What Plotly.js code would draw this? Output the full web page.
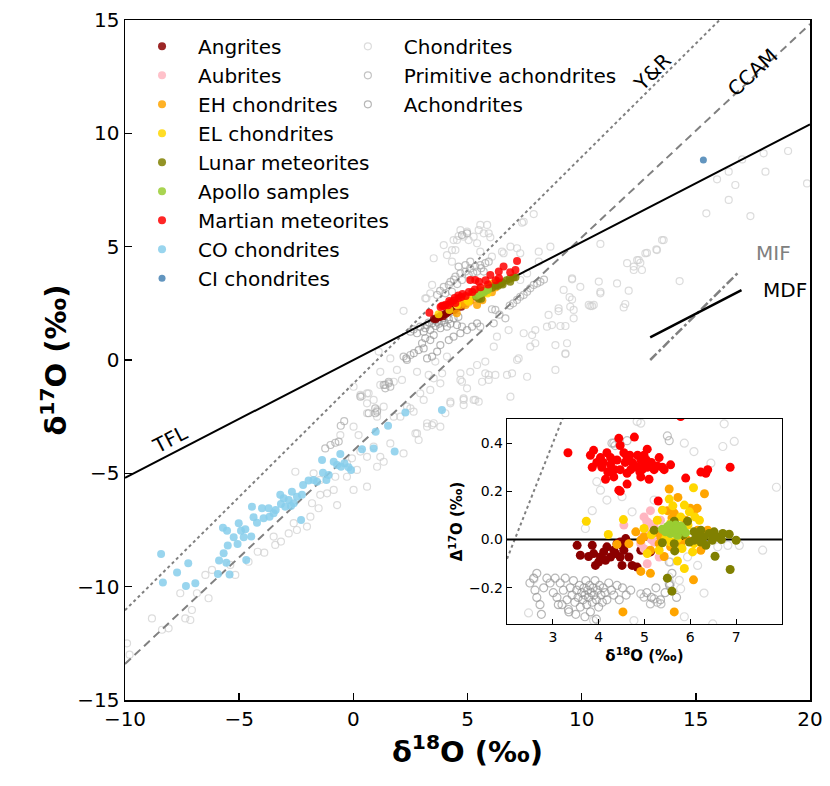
<!DOCTYPE html>
<html><head><meta charset="utf-8">
<script src="https://cdn.plot.ly/plotly-3.0.1.min.js"></script>
<style>html,body{margin:0;padding:0;background:#fff;}#chart{width:830px;height:786px;}</style>
</head><body><div id="chart"></div>
<script>
// ---------- DATA (main panel: [δ18O, δ17O]) ----------
const angritesMain = [[3.53,1.82],[3.60,1.80],[3.78,1.90],[3.86,1.99],[3.93,1.93],[4.04,2.03],[4.18,2.14],[4.33,2.21],[4.47,2.25],[4.55,2.33],[4.73,2.35],[4.92,2.52],[5.13,2.62],[3.70,1.88],[4.10,2.08],[4.40,2.20],[4.62,2.36]];
const aubritesMain = [[5.13,2.79],[4.99,2.68],[5.10,2.72],[5.21,2.76],[5.28,2.78],[4.92,2.54],[5.06,2.53],[5.32,2.70],[4.55,2.43],[5.35,2.86]];
const ehMain = [[5.54,3.09],[6.31,3.47],[6.08,3.28],[5.50,2.98],[4.81,2.53],[4.66,2.40],[5.13,2.63],[5.57,2.87],[6.23,3.20],[6.38,3.36],[4.53,2.06],[5.65,2.64],[4.92,2.43],[6.07,2.99],[5.79,2.99],[5.42,2.43]];
const elMain = [[3.73,2.02],[4.21,2.21],[4.54,2.44],[5.54,3.05],[6.07,3.38],[5.87,3.19],[5.28,2.83],[5.72,2.97],[5.82,2.99],[5.87,2.93],[4.99,2.64],[5.06,2.57],[6.10,3.26],[5.46,2.84]];
const lunarMain = [[5.39,2.79],[5.65,3.02],[5.94,3.17],[6.08,3.19],[6.23,3.28],[6.41,3.36],[6.52,3.42],[6.71,3.52],[6.85,3.58],[7.00,3.64],[6.48,3.37],[6.34,3.28],[6.87,3.45],[5.50,2.70],[5.60,2.70],[6.54,3.33],[7.10,3.65]];
const apolloMain = [[5.39,2.84],[5.50,2.91],[5.61,2.97],[5.68,3.01],[5.76,3.04],[5.83,3.08],[5.57,2.93],[5.72,2.99],[5.90,3.10]];
const martianMain = [[3.33,2.09],[3.82,2.34],[3.89,2.39],[3.96,2.38],[4.04,2.44],[4.15,2.41],[4.26,2.53],[4.40,2.62],[4.44,2.73],[4.47,2.52],[4.62,2.74],[4.73,2.78],[4.78,2.91],[4.92,2.82],[5.06,3.00],[5.21,3.00],[5.32,3.11],[5.57,3.21],[5.90,3.33],[6.23,3.52],[6.38,3.61],[6.87,3.87],[5.79,3.52],[5.50,3.45],[6.00,3.75],[6.37,3.90],[6.58,4.12],[7.10,3.97],[7.17,4.37],[5.12,3.53],[5.34,3.53],[4.20,2.60],[4.60,2.85]];
const coMain = [[-8.42,-8.56],[-8.34,-9.82],[-7.72,-9.38],[-7.33,-9.97],[-7.23,-8.97],[-6.92,-9.85],[-5.93,-9.44],[-5.88,-8.85],[-5.68,-8.53],[-5.56,-8.94],[-5.50,-8.18],[-5.42,-9.46],[-5.71,-7.40],[-5.53,-7.53],[-5.24,-7.82],[-5.07,-8.12],[-5.02,-7.20],[-4.92,-7.53],[-4.80,-7.82],[-4.69,-8.82],[-4.73,-7.47],[-4.47,-7.79],[-4.44,-6.47],[-4.37,-6.94],[-4.22,-7.18],[-4.00,-6.54],[-3.93,-6.98],[-3.71,-6.54],[-3.67,-6.91],[-3.49,-6.76],[-3.40,-6.62],[-3.20,-5.95],[-3.17,-6.35],[-3.05,-6.10],[-2.98,-6.47],[-2.83,-6.18],[-2.69,-5.81],[-2.73,-6.44],[-2.61,-6.32],[-2.47,-6.03],[-2.25,-5.95],[-2.29,-7.06],[-2.20,-5.51],[-1.96,-5.32],[-1.74,-5.29],[-1.59,-5.37],[-1.37,-4.41],[-1.33,-4.97],[-1.18,-5.29],[-1.08,-5.07],[-0.86,-4.49],[-0.71,-4.63],[-0.57,-4.15],[-0.54,-4.71],[-0.39,-4.56],[-0.21,-4.73],[-0.10,-4.85],[0.38,-3.94],[0.89,-3.90],[0.98,-3.16],[1.52,-2.90],[1.81,-4.04],[2.28,-2.32],[3.88,-2.21]];
const ciMain = [[15.33,8.82]];
const chondritesMain = [[-9.91,-12.5],[-9.8,-13.0],[-8.82,-11.4],[-8.38,-11.9],[-8.09,-11.84],[-7.58,-10.29],[-7.36,-11.4],[-7.14,-11.47],[-7.07,-11.03],[-6.85,-10.29],[-6.34,-10.51],[-6.48,-9.48],[-6.19,-9.26],[-5.39,-9.04],[-5.17,-9.48],[-4.59,-8.9],[-4.19,-8.46],[-3.9,-8.5],[-3.42,-8.16],[-3.17,-8.01],[-3.49,-7.79],[-2.83,-7.65],[-2.61,-7.2],[-2.47,-7.5],[-2.03,-7.35],[-1.88,-6.91],[-1.81,-6.32],[-1.52,-6.54],[-1.45,-5.95],[-1.15,-5.88],[-0.86,-5.73],[-0.71,-6.4],[-2.54,-4.93],[-1.74,-5.0],[-1.45,-5.29],[-0.79,-5.15],[-0.28,-5.15],[-0.28,-4.56],[-0.06,-4.34],[0.16,-4.85],[0.6,-5.59],[0.01,-5.73],[0.31,-4.04],[0.6,-4.27],[0.89,-3.82],[1.04,-4.71],[1.18,-4.27],[1.33,-4.49],[1.62,-3.68],[2.2,-4.12],[2.72,-3.24],[2.86,-3.53],[3.23,-2.94],[3.52,-2.79],[3.81,-2.94],[4.03,-2.35],[4.25,-1.84],[3.37,-1.32],[3.81,-1.03],[2.64,-2.28],[2.35,-2.06],[1.77,-2.5],[1.04,-2.5],[0.6,-2.35],[0.6,-1.91],[0.89,-1.76],[0.31,-1.54],[0.01,-1.18],[0.6,-1.47],[1.18,-1.1],[1.77,-0.96],[2.93,-1.47],
[1.11,0.37],[1.62,0.07],[1.18,-0.52],[0.38,-1.59],[0.67,-1.47],[1.91,-0.44],[2.13,-0.88],[2.79,-0.52],[3.59,-0.07],[4.1,0.15],[4.69,-0.59],[5.12,-0.52],[4.69,-0.88],[5.42,-0.22],[5.78,-0.07],[5.93,-0.88],[6.22,-0.66],[4.83,-1.69],[5.27,-1.76],[4.83,-1.99],[3.23,-2.79],[3.45,-2.87],[2.79,-3.24],[2.06,-2.5],[0.01,-2.94],[0.23,-3.31],[-0.57,-3.31],[1.04,-2.21],[1.33,-2.06],[2.5,-2.13],
[7.9,6.44],[7.39,6.06],[8.63,5.0],[10.82,5.12],[10.75,3.46],[10.82,2.94],[9.94,3.23],[9.58,3.56],[9.58,2.67],[9.21,3.09],[9.47,2.77],[8.99,2.28],[8.99,2.16],[8.55,1.99],[8.48,1.47],[8.7,1.54],[9.07,1.5],[9.29,1.5],[9.65,1.84],[10.38,2.38],[10.53,2.43],[12.06,3.06],[11.84,2.32],[11.91,2.47],[11.99,4.27],[12.28,3.97],[12.64,3.97],[12.43,4.41],[12.57,4.29],[12.86,4.73],[13.3,4.85],[13.59,5.29],[7.97,1.32],[7.83,1.1],[7.97,0.74],[7.75,0.59],[6.8,1.32],[6.29,1.03],[6.15,0.59],[7.17,0.0],[7.24,0.07],[6.95,-0.59],[6.73,-0.66],[7.61,-0.74],[8.85,-0.44],[9.29,0.26],[8.85,0.66],[7.46,1.18],[5.78,-0.59],[5.93,-0.66],[5.64,-0.96],[4.76,-0.96],[4.98,-1.25],[5.34,-1.76],[5.49,-1.84],[4.25,-1.91],[6.88,-1.62],[4.83,-1.76],[3.08,-1.76],[3.52,-0.81],[3.89,-0.59],[3.3,-0.66],
[5.86,5.96],[5.56,5.96],[5.93,5.59],[6.0,5.41],[4.69,5.73],[4.61,5.47],[4.39,5.29],[3.96,5.07],[4.1,4.63],[4.32,4.85],[3.52,4.49],[3.45,3.31],[3.2,2.72],[7.17,4.93],[7.31,4.71],[8.12,4.78],[8.12,4.34],[6.88,5.0],[6.51,4.78],[7.31,3.53],[7.61,3.82],[5.71,5.59],[5.42,5.15],[4.83,5.44],[4.54,5.29],[4.47,4.85],[4.32,4.34],[4.98,5.66],[5.05,5.29],[5.27,5.44],[5.49,5.73],[7.46,6.1],[6.58,4.71],[6.07,4.56],[3.37,2.94],[5.56,4.78],[2.2,2.17],[3.15,2.72],
[19.04,9.22],[19.87,7.79],[17.97,9.12],[18.05,8.31],[17.03,8.85],[16.44,8.31],[15.93,7.97],[16.73,7.72],[16.44,7.06],[15.46,6.47],[17.39,6.35],[13.52,5.29],[13.27,4.88],[12.79,4.71],[12.5,4.41],[12.28,4.12],[14.29,3.48],[10.82,3.01],[10.46,2.38],[10.31,2.43],[9.65,2.21],[9.36,0.74],[9.29,0.29],[9.58,3.6],[11.55,3.38],[9.5,2.35]];
const primitiveMain = [[4.25,3.45],[4.47,3.68],[4.69,3.82],[4.91,3.9],[5.12,4.04],[5.34,4.12],[5.56,4.19],[5.78,4.27],[5.93,4.34],[3.96,3.23],[4.76,3.53],[5.05,3.75],[5.42,3.9],[4.61,4.12],[4.91,4.19],[5.12,4.34],[4.98,5.59],[4.76,5.51],[5.71,3.9],[4.18,3.31],[4.32,3.01],[3.67,2.87],[4.03,2.94],[3.8,3.05],[4.55,3.35],[5.25,3.85],[5.6,4.05],[4.4,3.55],
[7.75,3.16],[7.9,3.31],[8.05,3.38],[7.61,3.01],[7.46,2.87],[7.31,2.79],[8.19,3.45],[7.17,2.65],[6.22,2.21],[6.15,1.62],[6.66,1.84],[7.0,2.5],[6.85,2.4],[8.35,3.55],[6.4,2.0],[6.07,2.24],[5.56,1.47],[4.76,1.47],
[1.33,-1.1],[1.55,-0.96],[1.62,-1.18],[1.4,-1.25],[0.67,-2.35],[0.96,-2.13],[0.31,-1.62],[-0.4,-2.7],[-0.55,-2.9],[2.2,0.15],[2.35,0.0],[2.5,0.22],[-1.23,-3.9],[-1.0,-3.75],[-0.79,-3.65],[-0.64,-3.6],[0.96,-2.35],[1.04,-2.28],[1.4,-1.1],[1.55,-1.03]];
const achondritesMain = [[2.64,1.35],[2.93,1.47],[3.23,1.54],[3.45,1.62],[3.67,1.69],[3.88,1.73],[4.18,1.8],[4.39,1.84],[2.79,1.18],[3.08,1.25],[3.37,1.32],[3.81,1.4],[4.1,1.47],[4.54,1.54],[3.55,1.75],[3.75,1.6],[3.95,1.85],[4.25,1.6],[3.15,1.4],[2.5,1.25],[4.6,1.9],[3.6,1.5],[3.3,1.65],[4.0,1.65],
[2.86,0.44],[3.08,0.51],[3.23,0.07],[3.45,0.15],[3.67,0.37],[3.81,0.66],[4.18,0.88],[4.39,1.03],[4.69,1.18],[4.98,1.32],[5.2,1.47],[5.42,1.62],[3.01,0.74],[3.15,0.96],[3.37,0.88],[3.52,1.1],[2.32,0.07],[2.65,0.3]];

// ---------- DATA (inset: [δ18O, Δ17O]) ----------
const angritesInset = [[3.53,-0.024],[3.6,-0.065],[3.86,-0.024],[3.89,-0.058],[3.93,-0.107],[4.04,-0.072],[4.11,-0.051],[4.18,-0.03],[4.33,-0.044],[4.4,-0.017],[4.47,-0.01],[4.51,-0.024],[4.55,-0.044],[4.47,-0.072],[4.51,-0.107],[4.73,-0.107],[4.84,-0.114],[4.26,-0.072],[4.15,-0.086],[4.59,0.004],[4.66,-0.072],[4.92,-0.044],[5.13,-0.051],[4.0,-0.093],[3.78,-0.07],[4.37,-0.058]];
const aubritesInset = [[5.13,0.12],[4.99,0.094],[5.1,0.067],[5.02,0.039],[5.21,0.053],[5.28,0.025],[4.92,-0.017],[4.99,-0.038],[5.06,-0.1],[5.32,-0.072],[4.55,0.06],[5.21,-0.01],[4.96,0.011],[5.35,0.08],[5.15,0.0],[5.05,0.075]];
const ehInset = [[5.54,0.21],[5.73,0.175],[6.08,0.12],[6.15,0.13],[6.31,0.19],[5.5,0.12],[5.65,0.11],[5.9,0.08],[4.81,0.032],[4.66,-0.017],[4.92,-0.003],[5.13,-0.044],[5.32,-0.017],[5.57,-0.03],[5.79,-0.017],[6.23,-0.044],[5.94,-0.003],[6.38,0.039],[6.07,-0.167],[5.13,-0.14],[4.92,-0.132],[4.53,-0.3],[5.65,-0.3],[5.43,-0.07],[5.36,0.011],[4.99,0.011],[6.16,0.039],[5.75,0.046],[6.0,0.13],[5.6,0.09],[4.4,-0.02],[5.25,0.03]];
const elInset = [[3.73,0.076],[4.21,0.021],[4.54,0.083],[5.54,0.168],[6.07,0.215],[5.87,0.143],[5.98,0.115],[6.1,0.094],[5.28,0.08],[5.57,0.067],[5.72,0.004],[5.82,-0.037],[6.05,-0.051],[5.72,-0.089],[5.87,-0.12],[4.99,0.046],[5.32,-0.044],[5.06,-0.058],[5.57,-0.01],[6.08,-0.017],[5.46,0.004],[5.39,0.122],[5.79,0.094],[5.62,0.14],[5.95,0.06],[6.2,0.08],[5.15,0.02]];
const lunarInset = [[5.65,0.076],[5.94,0.076],[6.08,0.032],[6.23,0.039],[6.3,0.011],[6.41,0.025],[6.52,0.032],[6.71,0.025],[6.85,0.022],[7.0,-0.003],[6.68,0.0],[6.48,-0.003],[6.34,-0.024],[6.08,-0.003],[5.98,-0.01],[5.65,-0.017],[5.66,-0.047],[5.39,-0.013],[6.54,-0.069],[6.87,-0.124],[5.5,-0.16],[5.6,-0.214],[5.21,0.039],[6.16,0.011],[6.23,-0.01],[6.6,0.01],[5.85,0.02]];
const apolloInset = [[5.39,0.043],[5.5,0.053],[5.61,0.046],[5.68,0.06],[5.76,0.039],[5.83,0.046],[5.57,0.025],[5.72,0.018],[5.65,0.036],[5.9,0.028],[5.46,0.032],[5.79,0.056],[5.55,0.06],[5.7,0.045]];
const martianInset = [[3.33,0.36],[3.82,0.35],[3.89,0.37],[3.96,0.32],[3.86,0.3],[4.04,0.34],[4.07,0.3],[4.15,0.25],[4.18,0.36],[4.26,0.31],[4.26,0.34],[4.33,0.26],[4.4,0.33],[4.44,0.42],[4.44,0.205],[4.47,0.39],[4.47,0.29],[4.47,0.2],[4.62,0.34],[4.62,0.275],[4.62,0.23],[4.73,0.32],[4.77,0.31],[4.78,0.425],[4.84,0.3],[4.92,0.33],[4.92,0.26],[4.99,0.35],[5.06,0.375],[5.06,0.3],[5.1,0.25],[5.21,0.29],[5.28,0.305],[5.32,0.34],[5.39,0.3],[5.43,0.29],[5.57,0.31],[5.9,0.255],[5.3,0.16],[6.23,0.28],[6.38,0.29],[6.34,0.275],[6.87,0.3],[5.79,0.51],[4.1,0.32],[4.55,0.36],[4.7,0.29],[4.85,0.35],[5.0,0.31],[4.35,0.29],[4.95,0.29],[5.15,0.32],[4.2,0.28],[4.58,0.32],[4.68,0.35],[4.9,0.28],[5.04,0.33]];
const chondritesInset = [[3.71,0.046],[3.96,0.24],[4.04,0.205],[4.73,0.115],[5.87,0.4],[6.08,0.365],[6.45,0.317],[6.74,0.48],[6.71,0.386],[6.96,0.407],[7.88,0.217],[7.58,-0.044],[7.07,-0.024],[6.82,-0.024],[6.6,-0.03],[6.16,-0.107],[5.94,-0.072],[5.76,-0.169],[5.79,-0.204],[5.57,-0.183],[5.54,-0.156],[6.3,-0.222],[5.87,-0.32],[4.77,-0.336],[3.89,-0.336],[2.59,-0.163],[2.47,-0.304],[5.21,0.164],[4.92,0.483],[4.84,0.49],[3.86,0.12],[4.18,0.164],[4.51,0.178],[5.57,-0.093],[6.49,-0.35]];
const primitiveInset = [[4.33,0.4],[5.5,0.43],[5.54,0.41],[4.62,0.41],[5.54,-0.093],[5.54,-0.183],[4.92,-0.225],[4.99,-0.239],[5.21,-0.246],[5.28,-0.26],[5.36,-0.267],[5.13,-0.267],[4.29,0.4],[4.36,0.39]];
const achondritesInset = [[2.5,-0.18],[2.58,-0.16],[2.65,-0.14],[2.61,-0.21],[2.65,-0.24],[2.72,-0.27],[2.8,-0.2],[2.87,-0.16],[2.94,-0.18],[3.01,-0.22],[3.05,-0.16],[3.09,-0.24],[3.12,-0.27],[3.16,-0.18],[3.23,-0.21],[3.27,-0.16],[3.31,-0.25],[3.34,-0.29],[3.38,-0.2],[3.42,-0.23],[3.45,-0.17],[3.48,-0.26],[3.52,-0.21],[3.55,-0.24],[3.58,-0.19],[3.6,-0.28],[3.63,-0.22],[3.66,-0.25],[3.68,-0.2],[3.7,-0.23],[3.72,-0.17],[3.74,-0.27],[3.76,-0.21],[3.78,-0.24],[3.8,-0.19],[3.82,-0.3],[3.84,-0.22],[3.86,-0.26],[3.88,-0.2],[3.9,-0.23],[3.92,-0.17],[3.95,-0.25],[3.97,-0.21],[4.0,-0.28],[4.02,-0.19],[4.05,-0.23],[4.08,-0.26],[4.1,-0.2],[4.14,-0.22],[4.18,-0.25],[4.22,-0.18],[4.28,-0.21],[4.33,-0.23],[4.4,-0.19],[4.45,-0.25],[4.52,-0.2],[3.5,-0.31],[3.7,-0.32],[3.95,-0.33],[3.35,-0.3],[4.6,-0.23],[4.7,-0.21],[2.75,-0.31],[3.2,-0.27],[5.05,-0.22],[5.15,-0.24],[5.25,-0.2],[5.35,-0.25],[5.45,-0.22],[5.55,-0.19],[5.6,-0.14],[5.7,-0.24]];

// reference lines: slope, intercept (δ17O = m·δ18O + b)
const TFL = {m:0.52, b:0};
const YR = {m:1.0, b:-1.04};
const CCAM = {m:0.941, b:-4.0};
const mainXRange = [-10, 20];
const mdfX = [13, 17], mifX = [13, 16.9];
const insetXRange = [2, 8];

// ---------- helpers ----------
const X = a => a.map(p => p[0]);
const Y = a => a.map(p => p[1]);
const FONT = 'DejaVu Sans, sans-serif';
const lineY = (xs, l) => xs.map(x => l.m * x + l.b);

const groups = [
  {name:'Angrites', color:'#8b0000', main:angritesMain, inset:angritesInset},
  {name:'Aubrites', color:'#ffb6c1', main:aubritesMain, inset:aubritesInset},
  {name:'EH chondrites', color:'#ffa500', main:ehMain, inset:ehInset},
  {name:'EL chondrites', color:'#ffd700', main:elMain, inset:elInset},
  {name:'Lunar meteorites', color:'#808000', main:lunarMain, inset:lunarInset},
  {name:'Apollo samples', color:'#9acd32', main:apolloMain, inset:apolloInset},
  {name:'Martian meteorites', color:'#ff0000', main:martianMain, inset:martianInset},
  {name:'CO chondrites', color:'#87ceeb', main:coMain, inset:null},
  {name:'CI chondrites', color:'#4682b4', main:ciMain, inset:null}
];
const grays = [
  {name:'Chondrites', color:'rgba(205,205,205,0.7)', main:chondritesMain, inset:chondritesInset},
  {name:'Primitive achondrites', color:'rgba(170,170,170,0.7)', main:primitiveMain, inset:primitiveInset},
  {name:'Achondrites', color:'rgba(145,145,145,0.65)', main:achondritesMain, inset:achondritesInset}
];

const traces = [];
// gray open circles (legend2)
grays.forEach((g,i) => {
  traces.push({type:'scatter', mode:'markers', name:g.name, x:X(g.main), y:Y(g.main),
    legend:'legend2', legendgroup:'g'+i,
    marker:{symbol:'circle-open', size:7, color:g.color, line:{width:1.2, color:g.color}}, hoverinfo:'skip'});
  traces.push({type:'scatter', mode:'markers', x:X(g.inset), y:Y(g.inset), xaxis:'x2', yaxis:'y2', showlegend:false,
    marker:{symbol:'circle-open', size:8, color:g.color, line:{width:1.2, color:g.color}}, hoverinfo:'skip'});
});
// reference lines main
traces.push({type:'scatter', mode:'lines', x:mainXRange, y:lineY(mainXRange, YR), showlegend:false,
  line:{color:'#808080', width:2, dash:'dot'}, hoverinfo:'skip'});
traces.push({type:'scatter', mode:'lines', x:mainXRange, y:lineY(mainXRange, CCAM), showlegend:false,
  line:{color:'#808080', width:2, dash:'8px,5px'}, hoverinfo:'skip'});
traces.push({type:'scatter', mode:'lines', x:mainXRange, y:lineY(mainXRange, TFL), showlegend:false,
  line:{color:'#000', width:2}, hoverinfo:'skip'});
traces.push({type:'scatter', mode:'lines', x:mifX, y:[0, mifX[1]-mifX[0]], showlegend:false,
  line:{color:'#808080', width:2.5, dash:'dashdot'}, hoverinfo:'skip'});
traces.push({type:'scatter', mode:'lines', x:mdfX, y:[1, 1 + TFL.m*(mdfX[1]-mdfX[0])], showlegend:false,
  line:{color:'#000', width:2.5}, hoverinfo:'skip'});
// inset reference lines (Δ17O)
traces.push({type:'scatter', mode:'lines', x:insetXRange, y:insetXRange.map(x => (YR.m - TFL.m)*x + YR.b), xaxis:'x2', yaxis:'y2', showlegend:false,
  line:{color:'#808080', width:2, dash:'dot'}, hoverinfo:'skip'});
traces.push({type:'scatter', mode:'lines', x:insetXRange, y:[0,0], xaxis:'x2', yaxis:'y2', showlegend:false,
  line:{color:'#000', width:2}, hoverinfo:'skip'});
// coloured groups
groups.forEach((g,i) => {
  traces.push({type:'scatter', mode:'markers', name:g.name, x:X(g.main), y:Y(g.main),
    legend:'legend', legendgroup:'c'+i,
    marker:{symbol:'circle', size:g.name==='CI chondrites'?7:8, color:g.color, opacity:0.85}, hoverinfo:'skip'});
  if (g.inset) traces.push({type:'scatter', mode:'markers', x:X(g.inset), y:Y(g.inset), xaxis:'x2', yaxis:'y2', showlegend:false,
    marker:{symbol:'circle', size:9, color:g.color}, hoverinfo:'skip'});
});

const axCommon = {showgrid:false, zeroline:false, showline:true, mirror:true, linecolor:'#000', linewidth:1.5,
  ticks:'inside', tickcolor:'#000', tickwidth:1.5, ticklen:7, tickfont:{family:FONT, size:20, color:'#000'}};

const layout = {
  width:830, height:786, paper_bgcolor:'#fff', plot_bgcolor:'#fff',
  margin:{l:125, r:20, t:20, b:86},
  font:{family:FONT, color:'#000'},
  xaxis:Object.assign({}, axCommon, {range:mainXRange, tickvals:[-10,-5,0,5,10,15,20], domain:[0,1],
    title:{text:'<b>δ<sup>18</sup>O (‰)</b>', font:{family:FONT, size:29, color:'#000'}, standoff:0}}),
  yaxis:Object.assign({}, axCommon, {range:[-15,15], tickvals:[-15,-10,-5,0,5,10,15], domain:[0,1],
    title:{text:'<b>δ<sup>17</sup>O (‰)</b>', font:{family:FONT, size:29, color:'#000'}, standoff:2}}),
  xaxis2:Object.assign({}, axCommon, {domain:[0.5577,0.959], anchor:'y2', range:insetXRange, tickvals:[3,4,5,6,7],
    ticklen:5, tickwidth:1.2, linewidth:1.3, tickfont:{family:FONT, size:14, color:'#000'},
    title:{text:'<b>δ<sup>18</sup>O (‰)</b>', font:{family:FONT, size:15, color:'#000'}, standoff:5}}),
  yaxis2:Object.assign({}, axCommon, {domain:[0.1118,0.4132], anchor:'x2', range:[-0.35,0.5], tickvals:[-0.2,0,0.2,0.4], tickformat:'.1f',
    ticklen:5, tickwidth:1.2, linewidth:1.3, tickfont:{family:FONT, size:14, color:'#000'},
    title:{text:'<b>Δ<sup>17</sup>O (‰)</b>', font:{family:FONT, size:15, color:'#000'}, standoff:2}}),
  legend:{x:0.0015, y:0.99, xanchor:'left', yanchor:'top', bgcolor:'rgba(0,0,0,0)', borderwidth:0,
    font:{family:FONT, size:20, color:'#000'}, itemwidth:62, tracegroupgap:0},
  legend2:{x:0.302, y:0.99, xanchor:'left', yanchor:'top', bgcolor:'rgba(0,0,0,0)', borderwidth:0,
    font:{family:FONT, size:20, color:'#000'}, itemwidth:62, tracegroupgap:0},
  annotations:[
    {x:-8.0, y:-3.5, xref:'x', yref:'y', text:'TFL', showarrow:false, textangle:-27.5, font:{family:FONT, size:20, color:'#000'}},
    {x:13.1, y:12.7, xref:'x', yref:'y', text:'Y&amp;R', showarrow:false, textangle:-45, font:{family:FONT, size:20, color:'#000'}},
    {x:17.5, y:12.7, xref:'x', yref:'y', text:'CCAM', showarrow:false, textangle:-43, font:{family:FONT, size:20, color:'#000'}},
    {x:18.4, y:4.7, xref:'x', yref:'y', text:'MIF', showarrow:false, font:{family:FONT, size:20, color:'#808080'}},
    {x:18.9, y:3.1, xref:'x', yref:'y', text:'MDF', showarrow:false, font:{family:FONT, size:20, color:'#000'}}
  ]
};

Plotly.newPlot('chart', traces, layout, {staticPlot:true, displayModeBar:false});
</script></body></html>
